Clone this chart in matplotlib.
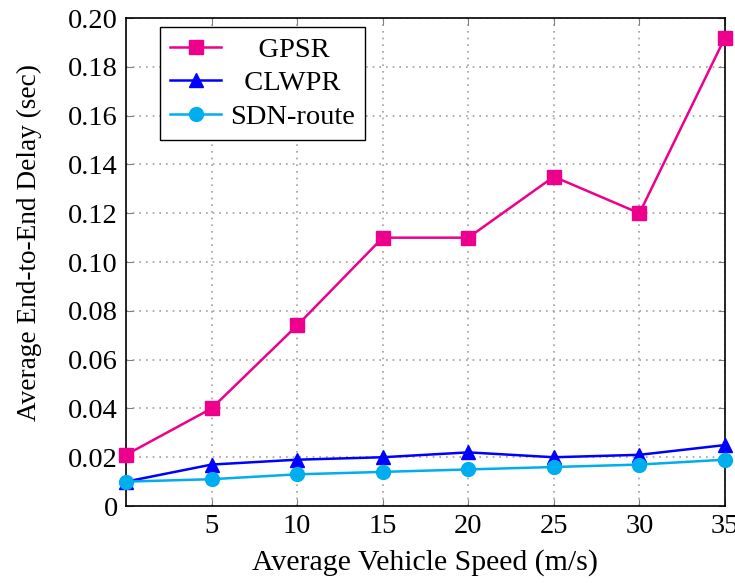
import matplotlib
matplotlib.use('Agg')
import matplotlib.pyplot as plt

plt.rcParams['font.family'] = ['Liberation Serif', 'DejaVu Serif']
plt.rcParams['mathtext.fontset'] = 'stix'

speed = [0, 5, 10, 15, 20, 25, 30, 35]
delay_gpsr = [0.021, 0.040, 0.074, 0.110, 0.110, 0.135, 0.120, 0.192]
delay_clwpr = [0.010, 0.017, 0.019, 0.020, 0.022, 0.020, 0.021, 0.025]
delay_sdn = [0.010, 0.011, 0.013, 0.014, 0.015, 0.016, 0.017, 0.019]

xticks = [5, 10, 15, 20, 25, 30, 35]
yticks = [0, 0.02, 0.04, 0.06, 0.08, 0.10, 0.12, 0.14, 0.16, 0.18, 0.20]
ytick_labels = ['0', '0.02', '0.04', '0.06', '0.08', '0.10', '0.12', '0.14', '0.16', '0.18', '0.20']

fig = plt.figure(figsize=(7.35, 5.83), dpi=100)
ax = fig.add_axes([0.1714, 0.132, 0.815, 0.837])

# leading spaces roughly center the legend text like pgfplots does
ax.plot(speed, delay_gpsr, '-s', color='#EC008C', lw=1.8, ms=10, label='    GPSR', clip_on=False, zorder=3)
ax.plot(speed, delay_clwpr, '-^', color='#0000FF', lw=1.8, ms=10, label='  CLWPR', clip_on=False, zorder=3)
ax.plot(speed, delay_sdn, '-o', color='#00AEEF', lw=1.8, ms=10, label='SDN-route', clip_on=False, zorder=3)

ax.set_xlim(0, 35)
ax.set_ylim(0, 0.2)
ax.set_xticks(xticks)
ax.set_yticks(yticks)
ax.set_yticklabels(ytick_labels)
ax.tick_params(direction='in', length=5, color='#808080', labelsize=20.5,
               top=True, right=True, pad=6)
ax.grid(True, linestyle=(0, (1, 3)), color='#a0a0a0', lw=1.2)
for s in ax.spines.values():
    s.set_linewidth(1.2)

ax.set_xlabel('Average Vehicle Speed (m/s)', fontsize=21.5, labelpad=7)
ax.set_ylabel('Average End-to-End Delay (sec)', fontsize=19.6)
ax.yaxis.set_label_coords(-0.14, 0.54)

leg = ax.legend(loc='upper left', bbox_to_anchor=(0.057, 0.982), borderaxespad=0,
                fontsize=20.5, fancybox=False, edgecolor='black', framealpha=1,
                handlelength=1.8, handletextpad=0.3, borderpad=0.35, labelspacing=0.27)
leg.get_frame().set_linewidth(1.0)

fig.savefig('out.png', dpi=100)
